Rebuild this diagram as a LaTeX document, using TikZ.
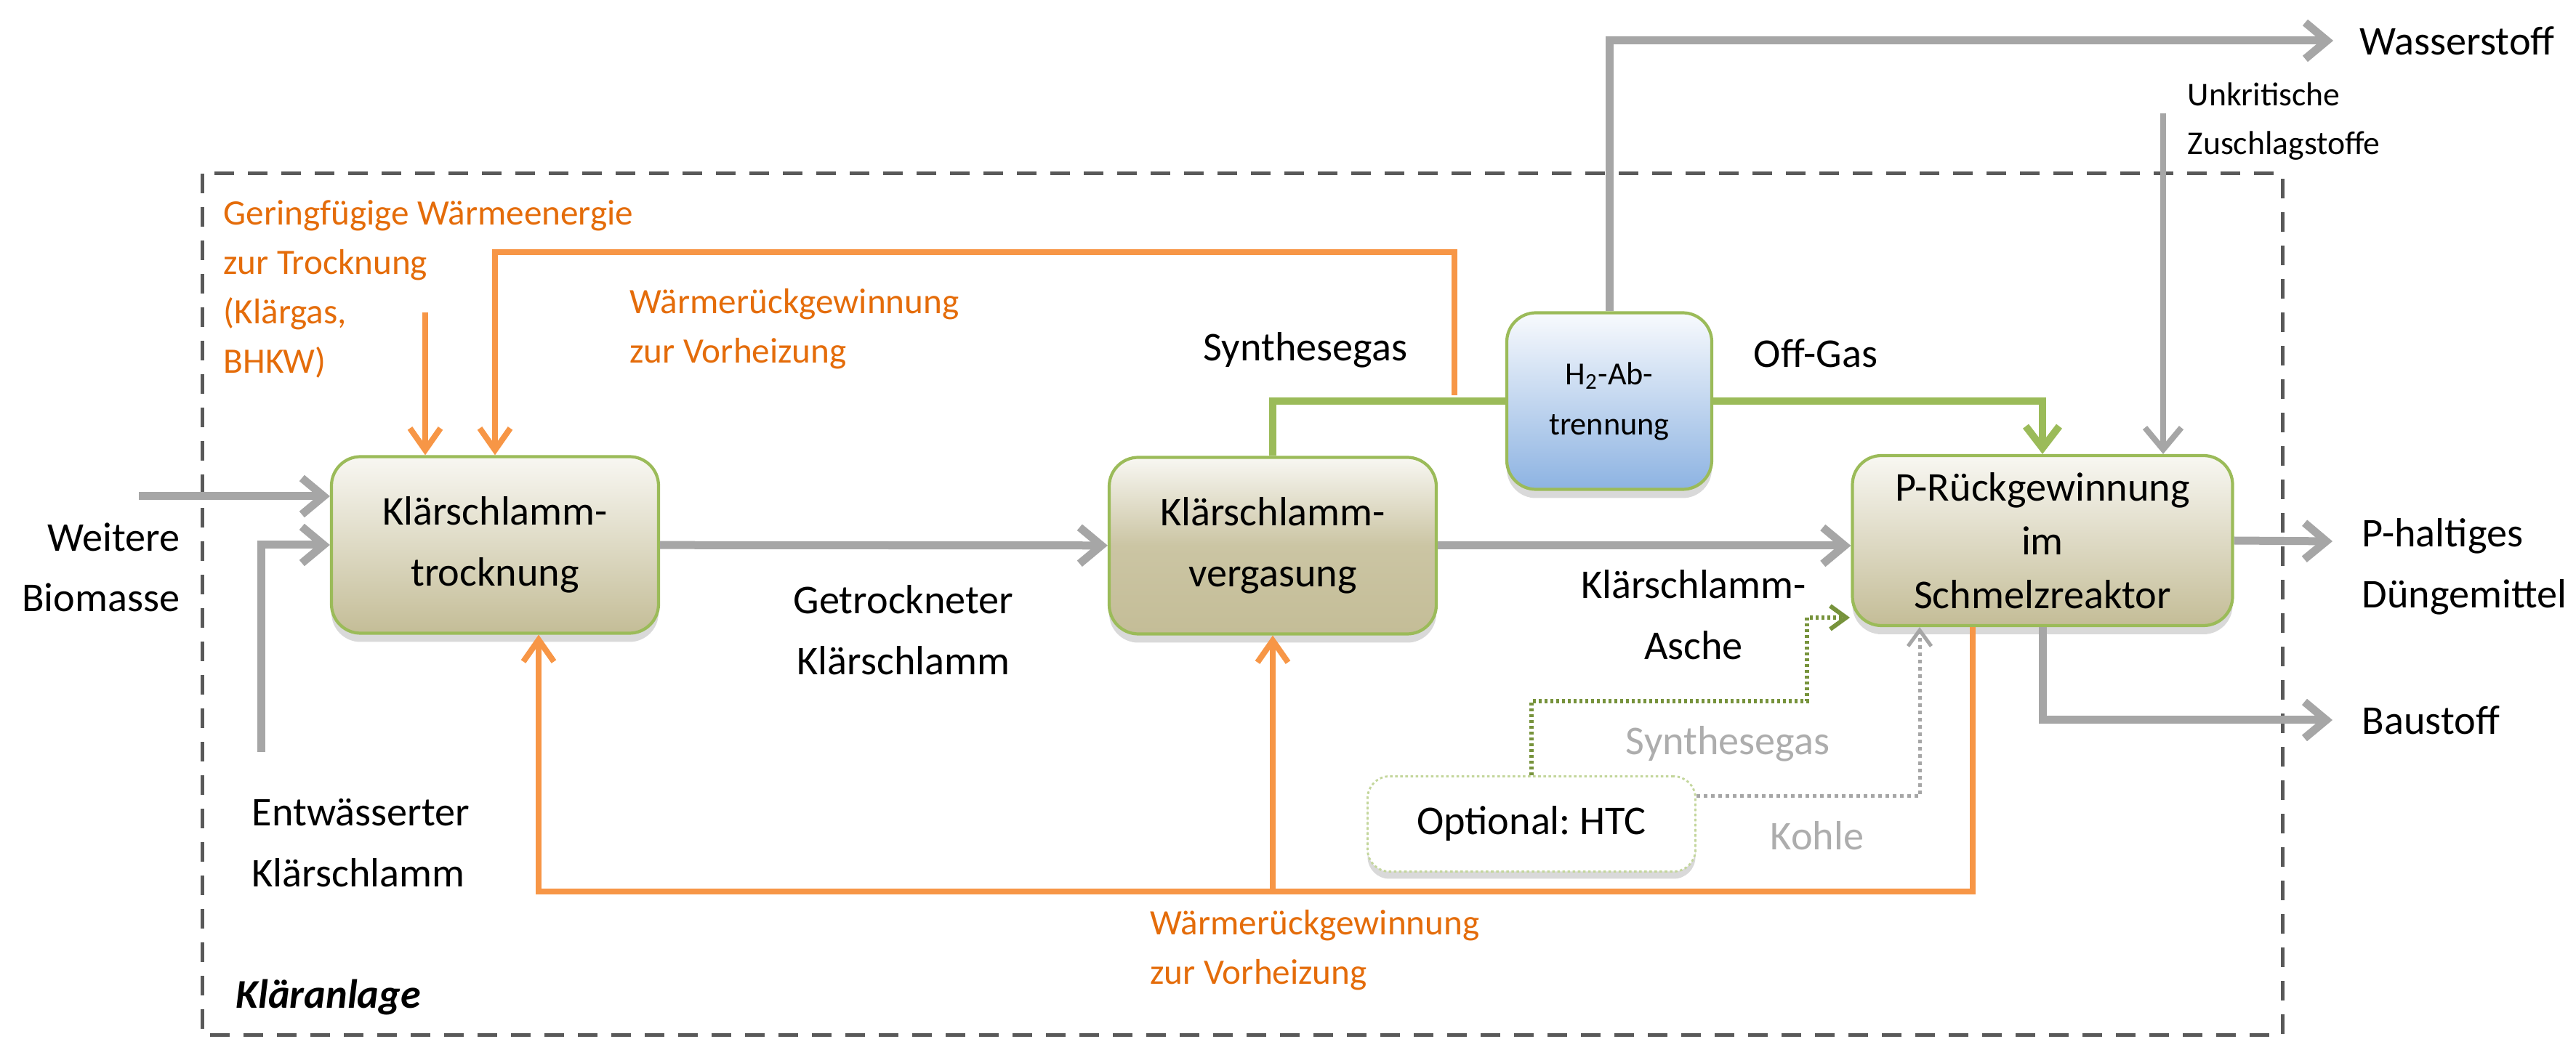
\documentclass[tikz,border=0pt]{standalone}
\usepackage{fontspec}
\setmainfont{Carlito}
\usepackage{xcolor}
\usepackage{tikz}
\usetikzlibrary{arrows.meta,shadows}

\definecolor{grau}{HTML}{A6A6A6}
\definecolor{grautext}{HTML}{ADADAD}
\definecolor{orangelinie}{HTML}{F79646}
\definecolor{orangetext}{HTML}{E46C0A}
\definecolor{gruen}{HTML}{9BBB59}
\definecolor{gruenhell}{HTML}{C3D69B}
\definecolor{gruendunkel}{HTML}{77933C}
\definecolor{rahmen}{HTML}{595959}
\definecolor{tanoben}{HTML}{F8F7F2}
\definecolor{tanunten}{HTML}{C4BD97}
\definecolor{blauoben}{HTML}{F8FAFD}
\definecolor{blauunten}{HTML}{8DB3E2}

\begin{document}
\begin{tikzpicture}[
		prozess/.style={draw=gruen, line width=1.2pt, rounded corners=0.4cm, top color=tanoben, bottom color=tanunten, align=center, inner sep=0pt, minimum width=4.5cm, minimum height=2.43cm, font=\fontsize{16}{23.8}\selectfont, drop shadow={opacity=0.3, shadow xshift=0cm, shadow yshift=-0.12cm}},
		optbox/.style={draw=gruenhell, line width=0.8pt, dash pattern=on 1pt off 1pt, rounded corners=0.3cm, fill=white, align=center, inner sep=0pt, minimum width=4.51cm, minimum height=1.31cm, font=\fontsize{16}{23.8}\selectfont, drop shadow={opacity=0.3, shadow xshift=0cm, shadow yshift=-0.1cm}},
		txt/.style={inner sep=0pt, font=\fontsize{16}{23.8}\selectfont},
		otxt/.style={inner sep=0pt, align=left, text=orangetext, font=\fontsize{14}{19.3}\selectfont},
		graupfeil/.style={->, >={Straight Barb[length=0.3cm,width=0.5cm]}, color=grau, line width=0.11cm},
		orangepfeil/.style={->, >={Straight Barb[length=0.3cm,width=0.42cm]}, color=orangelinie, line width=0.08cm},
		gruenpfeil/.style={color=gruen, line width=0.1cm, >={Straight Barb[length=0.3cm,width=0.46cm]}},
		gruenpunkt/.style={->, >={Straight Barb[length=0.22cm,width=0.32cm]}, color=gruendunkel, line width=0.06cm, dash pattern=on 0.04cm off 0.04cm},
		graupunkt/.style={->, >={Straight Barb[length=0.22cm,width=0.32cm]}, color=grau, line width=0.05cm, dash pattern=on 0.05cm off 0.05cm}
	]
	\useasboundingbox (0,0) rectangle (35.44,-14.30);
	\draw[rahmen, line width=0.05cm, dash pattern=on 0.27cm off 0.19cm] (2.78,-2.39) rectangle (31.40,-14.24);
	%
	\node[prozess] (T) at (6.81,-7.50) {Klärschlamm-\\trocknung};
	\node[prozess, middle color=tanunten!88!white] (V) at (17.51,-7.51) {Klärschlamm-\\vergasung};
	\node[prozess, top color=blauoben, bottom color=blauunten, minimum width=2.82cm, font=\fontsize{12.6}{19.6}\selectfont] (H) at (22.14,-5.52) {H\textsubscript{2}-Ab-\\trennung};
	\node[prozess, minimum width=5.23cm, minimum height=2.34cm, font=\fontsize{16}{21}\selectfont] (P) at (28.10,-7.44) {P-Rückgewinnung\\im\\Schmelzreaktor};
	\node[optbox] (O) at (21.07,-11.34) {Optional:\ HTC};
	%
	\node[txt, anchor=east, align=right] (WB) at (2.48,-7.81) {Weitere\\Biomasse};
	\node[txt, anchor=west, align=left] (EK) at (3.46,-11.60) {Entwässerter\\Klärschlamm};
	\node[txt, anchor=west, font=\fontsize{16}{20}\selectfont\bfseries\itshape] (KA) at (3.24,-13.73) {Kläranlage};
	\node[otxt, anchor=west] (GW) at (3.07,-3.98) {Geringfügige Wärmeenergie\\zur Trocknung\\(Klärgas,\\BHKW)};
	\node[otxt, anchor=west] (WO) at (8.66,-4.53) {Wärmerückgewinnung\\zur Vorheizung};
	\node[otxt, anchor=west] (WU) at (15.82,-13.08) {Wärmerückgewinnung\\zur Vorheizung};
	\node[txt, align=center] (GK) at (12.43,-8.67) {Getrockneter\\Klärschlamm};
	\node[txt] (SG) at (17.96,-4.82) {Synthesegas};
	\node[txt] (OG) at (24.98,-4.86) {Off-Gas};
	\node[txt, align=center] (KS) at (23.30,-8.46) {Klärschlamm-\\Asche};
	\node[txt, anchor=west] (WS) at (32.46,-0.56) {Wasserstoff};
	\node[txt, anchor=west, align=left, font=\fontsize{13}{19}\selectfont] (ZS) at (30.09,-1.67) {Unkritische\\Zuschlagstoffe};
	\node[txt, anchor=west, align=left] (DM) at (32.49,-7.80) {P-haltiges\\Düngemittel};
	\node[txt, anchor=west] (BS) at (32.49,-9.91) {Baustoff};
	\node[txt, text=grautext] (SH) at (23.77,-10.24) {Synthesegas};
	\node[txt, text=grautext] (KO) at (25.00,-11.50) {Kohle};
	%
	\coordinate (A) at (1.91,-6.83);
	\coordinate (B) at (3.59,-10.35);
	\coordinate (C) at (5.85,-4.30);
	\coordinate (D) at (20.01,-5.44);
	\coordinate (D') at (20.01,-3.47);
	\coordinate (E) at (27.14,-12.27);
	\coordinate (E') at (7.41,-12.27);
	\coordinate (F) at (32.10,-0.56);
	\coordinate (G) at (29.76,-1.56);
	\coordinate (I) at (32.09,-7.45);
	\coordinate (J) at (32.09,-9.91);
	\coordinate (K) at (24.86,-9.65);
	\coordinate (K') at (25.45,-8.50);
	\coordinate (L) at (26.41,-10.96);
	%
	\path[graupfeil]
		(A) edge (A -| T.west)
		(T) edge (V)
		(V.east) edge (V.east -| P.west)
		(P.east) edge (I);
	\draw[graupfeil] (B) |- (T.west);
	\draw[graupfeil] (H.north) |- (F);
	\draw[graupfeil] (P.south) |- (J);
	\draw[graupfeil, line width=0.08cm] (G) -- (G |- P.north);
	%
	\draw[gruenpfeil] (V.north) |- (H.west);
	\draw[gruenpfeil, ->] (H.east) -| (P.north);
	%
	\draw[orangepfeil] (C) -- (C |- T.north);
	\draw[orangepfeil] (D) -- (D') -| (T.north);
	\draw[orangepfeil] (E |- P.south) -- (E) -- (E') -- (E' |- T.south);
	\draw[orangepfeil] (V.south |- E) -- (V.south);
	%
	\draw[gruenpunkt] (O.north) |- (K) |- (K');
	\draw[graupunkt] (L -| O.east) -- (L) -- (L |- P.south);
\end{tikzpicture}
\end{document}
